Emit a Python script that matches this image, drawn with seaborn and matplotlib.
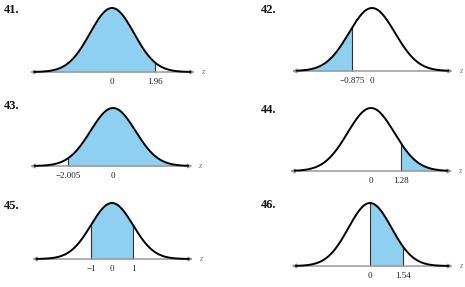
import numpy as np
import matplotlib
matplotlib.use("Agg")
import matplotlib.pyplot as plt
import seaborn as sns

# ---- data ----
panel_labels = ["41.", "42.", "43.", "44.", "45.", "46."]
shade_lo = [-np.inf, -np.inf, -2.005, 1.28, -1.0, 0.0]
shade_hi = [1.96, -0.875, np.inf, np.inf, 1.0, 1.54]
tick_values = [[0, 1.96], [-0.875, 0], [-2.005, 0], [0, 1.28], [-1, 0, 1], [0, 1.54]]
tick_labels = [["0", "1.96"], ["\u22120.875", "0"], ["\u22122.005", "0"],
               ["0", "1.28"], ["\u22121", "0", "1"], ["0", "1.54"]]

# ---- layout (pixels): zero x, px per unit, axis y, peak height, axis extent (z units), label pos
W, H = 465, 287
layout = [
    dict(x0=112, s=22.0, ay=72, h=64, ax_l=-3.73, ax_r=3.77, lab=(4, 10)),
    dict(x0=372, s=23.0, ay=71, h=63, ax_l=-3.48, ax_r=3.52, lab=(261, 10)),
    dict(x0=113, s=22.4, ay=166, h=58, ax_l=-3.70, ax_r=3.55, lab=(4, 106)),
    dict(x0=371, s=23.4, ay=171, h=63, ax_l=-3.46, ax_r=3.47, lab=(261, 110)),
    dict(x0=112, s=21.0, ay=259, h=56, ax_l=-3.80, ax_r=3.86, lab=(4, 206)),
    dict(x0=370, s=21.5, ay=266, h=63, ax_l=-3.65, ax_r=3.85, lab=(261, 205)),
]

sns.set_theme(style="white")
plt.rcParams['font.family'] = ['Liberation Serif', 'DejaVu Serif']

fig = plt.figure(figsize=(W / 100, H / 100), dpi=100)
fig.patch.set_facecolor("white")

FILL = "#8fcff0"
AXC = "#9a9a9a"
PEAK = 1 / np.sqrt(2 * np.pi)

for i in range(6):
    L = layout[i]
    xmin, xmax = -4.6, 4.6
    ymin, ymax = -0.15, 0.45
    k = L["h"] / PEAK
    left_px = L["x0"] + xmin * L["s"]
    width_px = (xmax - xmin) * L["s"]
    top_px = L["ay"] - ymax * k
    bot_px = L["ay"] - ymin * k
    ax = fig.add_axes([left_px / W, 1 - bot_px / H, width_px / W, (bot_px - top_px) / H])
    ax.set_xlim(xmin, xmax)
    ax.set_ylim(ymin, ymax)
    ax.set_facecolor("none")
    for sp in ["top", "right", "left"]:
        ax.spines[sp].set_visible(False)
    ax.spines["bottom"].set_position(("data", 0))
    ax.spines["bottom"].set_visible(False)
    ax.set_yticks([])

    z = np.linspace(L["ax_l"] + 0.2, L["ax_r"] - 0.2, 400)
    pdf = np.exp(-z ** 2 / 2) / np.sqrt(2 * np.pi)

    # shading
    lo = max(shade_lo[i], z[0])
    hi = min(shade_hi[i], z[-1])
    m = (z >= lo) & (z <= hi)
    ax.fill_between(z[m], 0, pdf[m], color=FILL, lw=0, zorder=1)
    for b in (shade_lo[i], shade_hi[i]):
        if np.isfinite(b):
            pb = np.exp(-b ** 2 / 2) / np.sqrt(2 * np.pi)
            ax.plot([b, b], [0, pb], color="#333333", lw=0.8, zorder=2)

    # axis line with arrows
    ax.annotate("", xy=(L["ax_r"], 0), xytext=(L["ax_l"], 0),
                arrowprops=dict(arrowstyle="<|-|>", color=AXC, lw=1.1,
                                mutation_scale=6, shrinkA=0, shrinkB=0),
                zorder=3)
    ax.text(L["ax_r"] + 6 / L["s"], 0, "z", color="#777777", style="italic",
            fontsize=6, ha="left", va="center")

    # curve
    sns.lineplot(x=z, y=pdf, ax=ax, color="black", lw=1.4, zorder=4)

    ax.set_xticks(tick_values[i])
    ax.set_xticklabels(tick_labels[i])
    ax.tick_params(axis="x", direction="inout", length=5, width=0.8, color=AXC,
                   labelsize=6.5, pad=1.5, labelcolor="#222222")
    ax.set_xlabel("")
    ax.set_ylabel("")

    fig.text(L["lab"][0] / W, 1 - L["lab"][1] / H, panel_labels[i],
             fontsize=9, fontweight="bold", ha="left", va="center", color="#111111")

fig.savefig("out.png", dpi=100)
